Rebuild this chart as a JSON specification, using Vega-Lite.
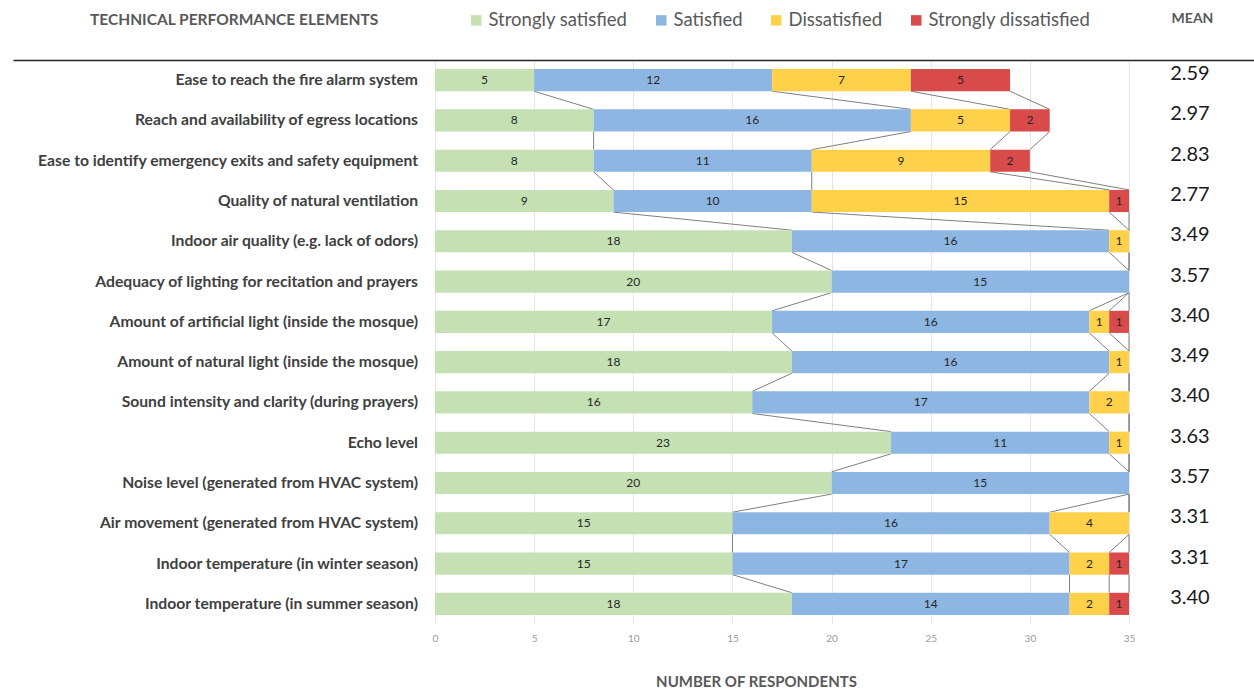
{
  "$schema": "https://vega.github.io/schema/vega-lite/v6.json",
  "width": 1241,
  "height": 564,
  "autosize": {"type": "none"},
  "padding": {"left": 13, "top": 60, "right": 0, "bottom": 68},
  "background": "white",
  "config": {"view": {"stroke": null}, "font": "Lato"},
  "title": {
    "text": "TECHNICAL PERFORMANCE ELEMENTS",
    "anchor": "start",
    "frame": "group",
    "orient": "top",
    "dx": 77,
    "dy": 24,
    "offset": 0,
    "baseline": "middle",
    "font": "Lato",
    "fontSize": 15.5,
    "fontWeight": "bold",
    "color": "#595959"
  },
  "datasets": {
    "responses": [
      {"item": "Ease to reach the fire alarm system", "level": "Strongly satisfied", "score": 4, "count": 5},
      {"item": "Ease to reach the fire alarm system", "level": "Satisfied", "score": 3, "count": 12},
      {"item": "Ease to reach the fire alarm system", "level": "Dissatisfied", "score": 2, "count": 7},
      {"item": "Ease to reach the fire alarm system", "level": "Strongly dissatisfied", "score": 1, "count": 5},
      {"item": "Reach and availability of egress locations", "level": "Strongly satisfied", "score": 4, "count": 8},
      {"item": "Reach and availability of egress locations", "level": "Satisfied", "score": 3, "count": 16},
      {"item": "Reach and availability of egress locations", "level": "Dissatisfied", "score": 2, "count": 5},
      {"item": "Reach and availability of egress locations", "level": "Strongly dissatisfied", "score": 1, "count": 2},
      {"item": "Ease to identify emergency exits and safety equipment", "level": "Strongly satisfied", "score": 4, "count": 8},
      {"item": "Ease to identify emergency exits and safety equipment", "level": "Satisfied", "score": 3, "count": 11},
      {"item": "Ease to identify emergency exits and safety equipment", "level": "Dissatisfied", "score": 2, "count": 9},
      {"item": "Ease to identify emergency exits and safety equipment", "level": "Strongly dissatisfied", "score": 1, "count": 2},
      {"item": "Quality of natural ventilation", "level": "Strongly satisfied", "score": 4, "count": 9},
      {"item": "Quality of natural ventilation", "level": "Satisfied", "score": 3, "count": 10},
      {"item": "Quality of natural ventilation", "level": "Dissatisfied", "score": 2, "count": 15},
      {"item": "Quality of natural ventilation", "level": "Strongly dissatisfied", "score": 1, "count": 1},
      {"item": "Indoor air quality (e.g. lack of odors)", "level": "Strongly satisfied", "score": 4, "count": 18},
      {"item": "Indoor air quality (e.g. lack of odors)", "level": "Satisfied", "score": 3, "count": 16},
      {"item": "Indoor air quality (e.g. lack of odors)", "level": "Dissatisfied", "score": 2, "count": 1},
      {"item": "Indoor air quality (e.g. lack of odors)", "level": "Strongly dissatisfied", "score": 1, "count": 0},
      {"item": "Adequacy of lighting for recitation and prayers", "level": "Strongly satisfied", "score": 4, "count": 20},
      {"item": "Adequacy of lighting for recitation and prayers", "level": "Satisfied", "score": 3, "count": 15},
      {"item": "Adequacy of lighting for recitation and prayers", "level": "Dissatisfied", "score": 2, "count": 0},
      {"item": "Adequacy of lighting for recitation and prayers", "level": "Strongly dissatisfied", "score": 1, "count": 0},
      {"item": "Amount of artificial light (inside the mosque)", "level": "Strongly satisfied", "score": 4, "count": 17},
      {"item": "Amount of artificial light (inside the mosque)", "level": "Satisfied", "score": 3, "count": 16},
      {"item": "Amount of artificial light (inside the mosque)", "level": "Dissatisfied", "score": 2, "count": 1},
      {"item": "Amount of artificial light (inside the mosque)", "level": "Strongly dissatisfied", "score": 1, "count": 1},
      {"item": "Amount of natural light (inside the mosque)", "level": "Strongly satisfied", "score": 4, "count": 18},
      {"item": "Amount of natural light (inside the mosque)", "level": "Satisfied", "score": 3, "count": 16},
      {"item": "Amount of natural light (inside the mosque)", "level": "Dissatisfied", "score": 2, "count": 1},
      {"item": "Amount of natural light (inside the mosque)", "level": "Strongly dissatisfied", "score": 1, "count": 0},
      {"item": "Sound intensity and clarity (during prayers)", "level": "Strongly satisfied", "score": 4, "count": 16},
      {"item": "Sound intensity and clarity (during prayers)", "level": "Satisfied", "score": 3, "count": 17},
      {"item": "Sound intensity and clarity (during prayers)", "level": "Dissatisfied", "score": 2, "count": 2},
      {"item": "Sound intensity and clarity (during prayers)", "level": "Strongly dissatisfied", "score": 1, "count": 0},
      {"item": "Echo level", "level": "Strongly satisfied", "score": 4, "count": 23},
      {"item": "Echo level", "level": "Satisfied", "score": 3, "count": 11},
      {"item": "Echo level", "level": "Dissatisfied", "score": 2, "count": 1},
      {"item": "Echo level", "level": "Strongly dissatisfied", "score": 1, "count": 0},
      {"item": "Noise level (generated from HVAC system)", "level": "Strongly satisfied", "score": 4, "count": 20},
      {"item": "Noise level (generated from HVAC system)", "level": "Satisfied", "score": 3, "count": 15},
      {"item": "Noise level (generated from HVAC system)", "level": "Dissatisfied", "score": 2, "count": 0},
      {"item": "Noise level (generated from HVAC system)", "level": "Strongly dissatisfied", "score": 1, "count": 0},
      {"item": "Air movement (generated from HVAC system)", "level": "Strongly satisfied", "score": 4, "count": 15},
      {"item": "Air movement (generated from HVAC system)", "level": "Satisfied", "score": 3, "count": 16},
      {"item": "Air movement (generated from HVAC system)", "level": "Dissatisfied", "score": 2, "count": 4},
      {"item": "Air movement (generated from HVAC system)", "level": "Strongly dissatisfied", "score": 1, "count": 0},
      {"item": "Indoor temperature (in winter season)", "level": "Strongly satisfied", "score": 4, "count": 15},
      {"item": "Indoor temperature (in winter season)", "level": "Satisfied", "score": 3, "count": 17},
      {"item": "Indoor temperature (in winter season)", "level": "Dissatisfied", "score": 2, "count": 2},
      {"item": "Indoor temperature (in winter season)", "level": "Strongly dissatisfied", "score": 1, "count": 1},
      {"item": "Indoor temperature (in summer season)", "level": "Strongly satisfied", "score": 4, "count": 18},
      {"item": "Indoor temperature (in summer season)", "level": "Satisfied", "score": 3, "count": 14},
      {"item": "Indoor temperature (in summer season)", "level": "Dissatisfied", "score": 2, "count": 2},
      {"item": "Indoor temperature (in summer season)", "level": "Strongly dissatisfied", "score": 1, "count": 1}
    ],
    "means": [
      {"item": "Ease to reach the fire alarm system", "mean": 2.59},
      {"item": "Reach and availability of egress locations", "mean": 2.97},
      {"item": "Ease to identify emergency exits and safety equipment", "mean": 2.83},
      {"item": "Quality of natural ventilation", "mean": 2.77},
      {"item": "Indoor air quality (e.g. lack of odors)", "mean": 3.49},
      {"item": "Adequacy of lighting for recitation and prayers", "mean": 3.57},
      {"item": "Amount of artificial light (inside the mosque)", "mean": 3.40},
      {"item": "Amount of natural light (inside the mosque)", "mean": 3.49},
      {"item": "Sound intensity and clarity (during prayers)", "mean": 3.40},
      {"item": "Echo level", "mean": 3.63},
      {"item": "Noise level (generated from HVAC system)", "mean": 3.57},
      {"item": "Air movement (generated from HVAC system)", "mean": 3.31},
      {"item": "Indoor temperature (in winter season)", "mean": 3.31},
      {"item": "Indoor temperature (in summer season)", "mean": 3.40}
    ]
  },
  "data": {"name": "responses"},
  "resolve": {"axis": {"x": "independent"}},
  "encoding": {
    "y": {
      "field": "item",
      "type": "nominal",
      "sort": [
        "Ease to reach the fire alarm system",
        "Reach and availability of egress locations",
        "Ease to identify emergency exits and safety equipment",
        "Quality of natural ventilation",
        "Indoor air quality (e.g. lack of odors)",
        "Adequacy of lighting for recitation and prayers",
        "Amount of artificial light (inside the mosque)",
        "Amount of natural light (inside the mosque)",
        "Sound intensity and clarity (during prayers)",
        "Echo level",
        "Noise level (generated from HVAC system)",
        "Air movement (generated from HVAC system)",
        "Indoor temperature (in winter season)",
        "Indoor temperature (in summer season)"
      ],
      "scale": {"paddingInner": 0.45, "paddingOuter": 0.225},
      "axis": {
        "labels": false,
        "ticks": false,
        "domain": false,
        "grid": true,
        "gridColor": "#d9d9d9",
        "gridWidth": 1,
        "tickOffset": 11,
        "title": null
      }
    }
  },
  "layer": [
    {
      "transform": [
        {"stack": "count", "groupby": ["item"], "sort": [{"field": "score", "order": "descending"}], "as": ["segStart", "segEnd"]},
        {"window": [{"op": "lead", "field": "segEnd", "as": "nextEnd"}, {"op": "lead", "field": "item", "as": "nextItem"}], "groupby": ["score"]},
        {"filter": "datum.nextItem != null"}
      ],
      "mark": {"type": "rule", "color": "#7f7f7f", "strokeWidth": 1},
      "encoding": {
        "x": {"field": "segEnd", "type": "quantitative", "axis": null},
        "x2": {"field": "nextEnd"},
        "y": {
          "field": "item",
          "type": "nominal",
          "bandPosition": 1,
          "sort": [
            "Ease to reach the fire alarm system",
            "Reach and availability of egress locations",
            "Ease to identify emergency exits and safety equipment",
            "Quality of natural ventilation",
            "Indoor air quality (e.g. lack of odors)",
            "Adequacy of lighting for recitation and prayers",
            "Amount of artificial light (inside the mosque)",
            "Amount of natural light (inside the mosque)",
            "Sound intensity and clarity (during prayers)",
            "Echo level",
            "Noise level (generated from HVAC system)",
            "Air movement (generated from HVAC system)",
            "Indoor temperature (in winter season)",
            "Indoor temperature (in summer season)"
          ],
          "axis": null
        },
        "y2": {"field": "nextItem", "bandPosition": 0}
      }
    },
    {
      "mark": {"type": "bar"},
      "encoding": {
        "x": {
          "field": "count",
          "type": "quantitative",
          "stack": "zero",
          "scale": {"domain": [-21.282, 41.303], "nice": false, "zero": false},
          "axis": {
            "orient": "bottom",
            "values": [0, 5, 10, 15, 20, 25, 30, 35],
            "domain": false,
            "ticks": false,
            "grid": true,
            "gridColor": "#e6e6e6",
            "labelFontSize": 10,
            "labelColor": "#999999",
            "labelPadding": 9,
            "title": "NUMBER OF RESPONDENTS",
            "titleX": 743,
            "titleY": 57,
            "titleAlign": "center",
            "titleBaseline": "middle",
            "titleFontSize": 15,
            "titleFontWeight": "bold",
            "titleColor": "#595959"
          }
        },
        "color": {
          "field": "level",
          "type": "nominal",
          "scale": {
            "domain": ["Strongly satisfied", "Satisfied", "Dissatisfied", "Strongly dissatisfied"],
            "range": ["#C5E0B3", "#8DB6E2", "#FFD04A", "#D94A4A"]
          },
          "legend": {
            "orient": "none",
            "legendX": 454,
            "legendY": -49,
            "direction": "horizontal",
            "title": null,
            "padding": 0,
            "symbolType": "square",
            "symbolSize": 110,
            "symbolStrokeWidth": 0,
            "labelFontSize": 18.5,
            "labelColor": "#595959",
            "labelOffset": 3,
            "labelLimit": 400,
            "columnPadding": 24
          }
        },
        "order": {"field": "score", "sort": "descending"}
      }
    },
    {
      "transform": [{"filter": "datum.count > 0"}],
      "mark": {"type": "text", "fontSize": 12, "color": "#262626", "align": "center", "baseline": "middle"},
      "encoding": {
        "x": {"field": "count", "type": "quantitative", "stack": "zero", "bandPosition": 0.5, "axis": null},
        "detail": {"field": "level"},
        "order": {"field": "score", "sort": "descending"},
        "text": {"field": "count", "type": "quantitative"}
      }
    },
    {
      "data": {"name": "means"},
      "mark": {"type": "text", "align": "right", "baseline": "middle", "dx": -17, "fontSize": 15.7, "fontWeight": "bold", "color": "#404040"},
      "encoding": {
        "x": {"datum": 0, "axis": null},
        "text": {"field": "item", "type": "nominal"}
      }
    },
    {
      "data": {"name": "means"},
      "mark": {"type": "text", "align": "center", "baseline": "middle", "dy": -6, "fontSize": 20, "color": "#1a1a1a"},
      "encoding": {
        "x": {
          "datum": 38.07,
          "axis": {
            "orient": "top",
            "labels": false,
            "ticks": false,
            "grid": false,
            "domain": true,
            "domainColor": "#262626",
            "domainWidth": 1.6,
            "title": "MEAN",
            "titleX": 1179,
            "titleY": -42,
            "titleAlign": "center",
            "titleBaseline": "middle",
            "titleFontSize": 14,
            "titleFontWeight": "bold",
            "titleColor": "#595959"
          }
        },
        "text": {"field": "mean", "type": "quantitative", "format": ".2f"}
      }
    }
  ]
}
